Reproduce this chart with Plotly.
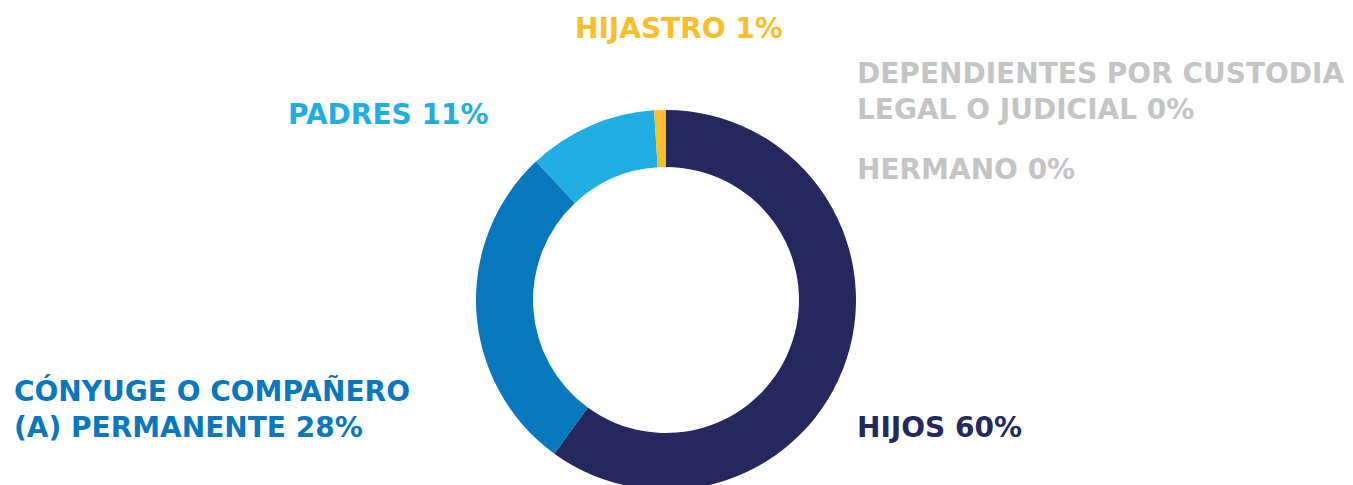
import plotly.graph_objects as go

W, H = 1353, 485

categories = ["HIJOS", "CÓNYUGE O COMPAÑERO (A) PERMANENTE", "PADRES", "HIJASTRO",
              "DEPENDIENTES POR CUSTODIA LEGAL O JUDICIAL", "HERMANO"]
values = [60, 28, 11, 1, 0, 0]
colors = ["#24285F", "#0777BE", "#1FADE2", "#FBBE2B", "#C4C4C4", "#C4C4C4"]

label_texts = [
    "HIJOS 60%",
    "CÓNYUGE O COMPAÑERO<br>(A) PERMANENTE 28%",
    "PADRES 11%",
    "HIJASTRO 1%",
    "DEPENDIENTES POR CUSTODIA<br>LEGAL O JUDICIAL 0%",
    "HERMANO 0%",
]
# target page-pixel anchors (left x, vertical centre of text block)
label_pos = [(858, 427), (15, 408), (289, 114), (576, 28), (858, 90.5), (858, 169.5)]

OFF = 8            # body margin of the page
TX, TY = 3, -0.5   # annotation padding correction

cx, cy, R = 666 - OFF, 300 - OFF, 190

fig = go.Figure(go.Pie(
    labels=categories,
    values=values,
    marker=dict(colors=colors, line=dict(width=0)),
    hole=0.70,
    sort=False,
    direction="clockwise",
    rotation=0,
    textinfo="none",
    hoverinfo="label+percent",
    showlegend=False,
    domain=dict(x=[(cx - R) / W, (cx + R) / W], y=[(H - (cy + R)) / H, (H - (cy - R)) / H]),
))

annotations = []
for txt, (px, py), col in zip(label_texts, label_pos, colors):
    annotations.append(dict(
        text=txt, align="left",
        x=(px - OFF - TX) / W, y=1 - (py - OFF - TY) / H, xref="paper", yref="paper",
        xanchor="left", yanchor="middle", showarrow=False,
        font=dict(family="DejaVu Sans", size=28, color=col, weight="bold"),
    ))

fig.update_layout(
    width=W, height=H,
    margin=dict(l=0, r=0, t=0, b=0),
    paper_bgcolor="white", plot_bgcolor="white",
    annotations=annotations,
)

fig.write_html("out.html")
